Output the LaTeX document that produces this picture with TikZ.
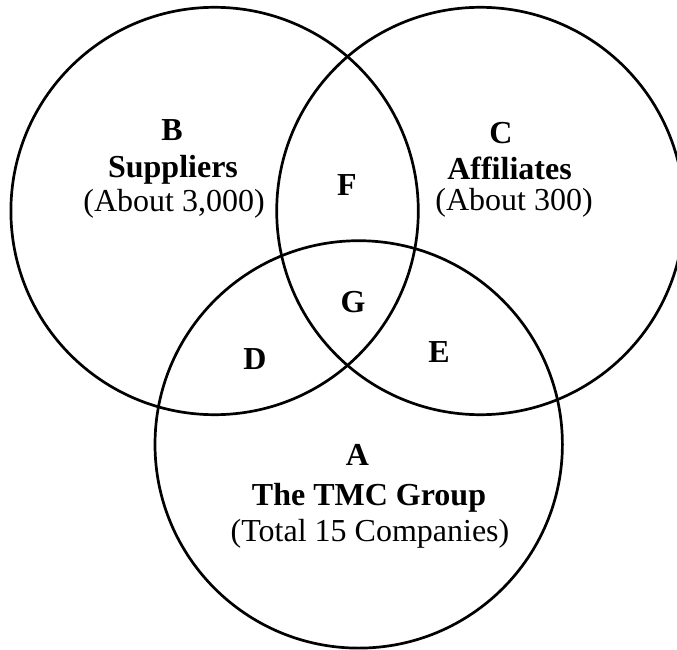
\documentclass[tikz,border=0pt]{standalone}
\usepackage{fontspec}
\setmainfont{Liberation Serif}
\begin{document}
\begin{tikzpicture}[x=1pt,y=-1pt,
  venn/.style={circle,draw,line width=2.7pt,minimum size=407.4pt,inner sep=0pt},
  lbl/.style={anchor=base,inner sep=0pt,font=\fontsize{32}{36}\selectfont},
  blbl/.style={lbl,font=\fontsize{32}{36}\selectfont\bfseries}]
\useasboundingbox (0,0) rectangle (677,650);
% the three sets
\node[venn] (setB) at (214.6,211) {};
\node[venn] (setC) at (480.4,211) {};
\node[venn] (setA) at (358.7,444.4) {};
% set B: suppliers
\node[blbl] (tB)  at (172,140.5) {B};
\node[blbl] (tB2) at (173,177.5) {Suppliers};
\node[lbl]  (tB3) at (174,211.5) {(About 3,000)};
% set C: affiliates
\node[blbl] (tC)  at (501,143) {C};
\node[blbl] (tC2) at (509.5,179.5) {Affiliates};
\node[lbl]  (tC3) at (514,210) {(About 300)};
% set A: the group
\node[blbl] (tA)  at (357.5,465.5) {A};
\node[blbl] (tA2) at (369,505) {The TMC Group};
\node[lbl]  (tA3) at (370,541.5) {(Total 15 Companies)};
% overlaps
\node[blbl] (tF) at (347,195) {F};
\node[blbl] (tG) at (353,312) {G};
\node[blbl] (tD) at (255,369) {D};
\node[blbl] (tE) at (439,362) {E};
\end{tikzpicture}
\end{document}
